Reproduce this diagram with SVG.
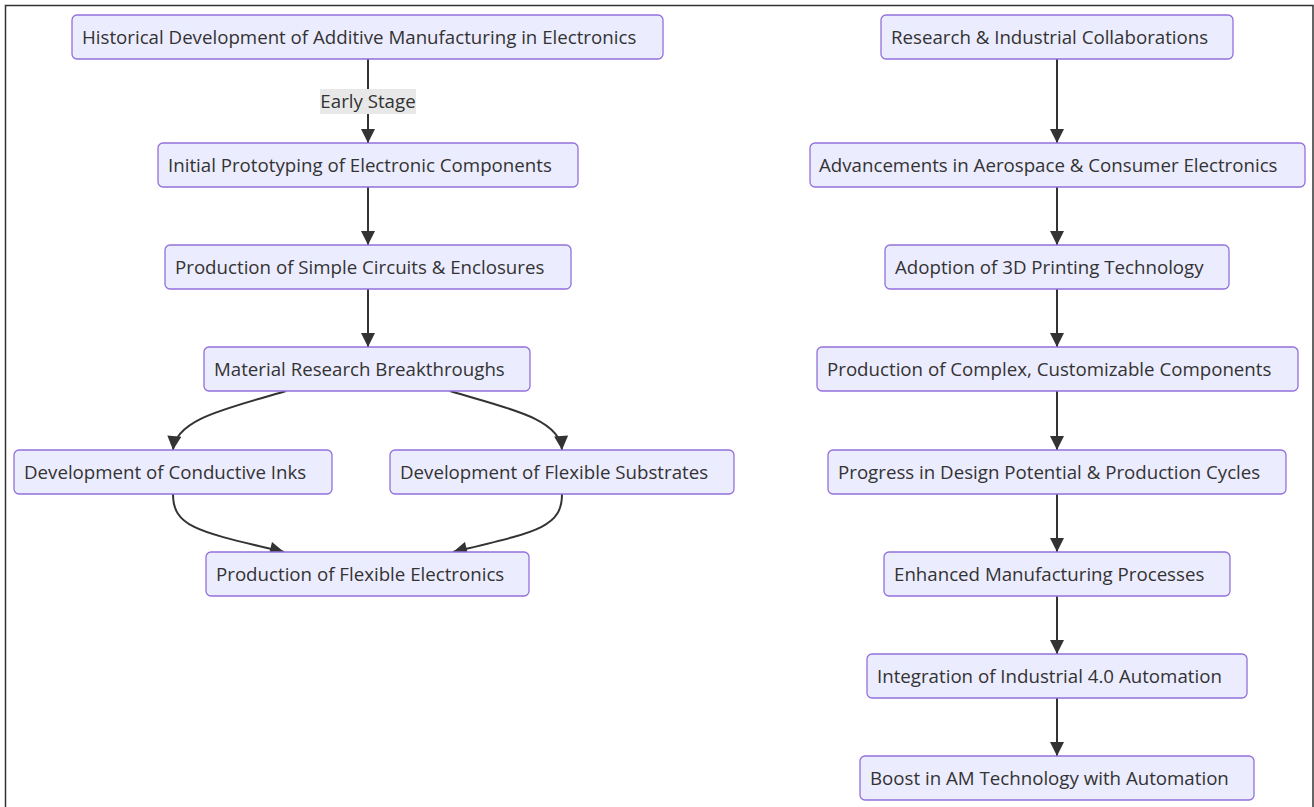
<svg xmlns="http://www.w3.org/2000/svg" width="1314" height="807" viewBox="0 0 1314 807">
<defs>
<style>
.n rect{fill:#ECECFF;stroke:#9370DB;stroke-width:1.3}
.n text{font-family:"Open Sans","Liberation Sans",sans-serif;font-size:18.7px;fill:#333}
.e path{fill:none;stroke:#333;stroke-width:2}
.lbl{font-family:"Open Sans","Liberation Sans",sans-serif;font-size:18.7px;fill:#333}
</style>
<marker id="arr" viewBox="0 0 10 10" refX="10" refY="5" markerWidth="15" markerHeight="14" markerUnits="userSpaceOnUse" orient="auto">
<path d="M0,0 L10,5 L0,10 z" fill="#333"/>
</marker>
</defs>
<rect x="0" y="0" width="1314" height="807" fill="#fff"/>
<path d="M5.5,807 V5.5 H1313 V807" fill="none" stroke="#333" stroke-width="1.5"/>
<g class="e">
<path d="M368,59 V143" marker-end="url(#arr)"/>
<path d="M368,187 V245" marker-end="url(#arr)"/>
<path d="M368,289 V347" marker-end="url(#arr)"/>
<path d="M286,391 C230,408 176,418 173,450" marker-end="url(#arr)"/>
<path d="M450,391 C506,408 560,418 562,450" marker-end="url(#arr)"/>
<path d="M173,494 C173,528 200,532 284,552" marker-end="url(#arr)"/>
<path d="M562,494 C562,528 536,532 453,552" marker-end="url(#arr)"/>
<path d="M1057,59 V143" marker-end="url(#arr)"/>
<path d="M1057,187 V245" marker-end="url(#arr)"/>
<path d="M1057,289 V347" marker-end="url(#arr)"/>
<path d="M1057,391 V450" marker-end="url(#arr)"/>
<path d="M1057,494 V552" marker-end="url(#arr)"/>
<path d="M1057,596 V654" marker-end="url(#arr)"/>
<path d="M1057,698 V756" marker-end="url(#arr)"/>
<rect x="320" y="89" width="96" height="25" fill="#e8e8e8" stroke="none"/>
<text class="lbl" x="368" y="108" text-anchor="middle">Early Stage</text>
</g>
<g class="n" id="n1"><rect x="72" y="15" width="591" height="44" rx="5"/><text x="82" y="44">Historical Development of Additive Manufacturing in Electronics</text></g>
<g class="n" id="n2"><rect x="158" y="143" width="420" height="44" rx="5"/><text x="168" y="172">Initial Prototyping of Electronic Components</text></g>
<g class="n" id="n3"><rect x="165" y="245" width="406" height="44" rx="5"/><text x="175" y="274">Production of Simple Circuits &amp; Enclosures</text></g>
<g class="n" id="n4"><rect x="204" y="347" width="326" height="44" rx="5"/><text x="214" y="376">Material Research Breakthroughs</text></g>
<g class="n" id="n5"><rect x="14" y="450" width="318" height="44" rx="5"/><text x="24" y="479">Development of Conductive Inks</text></g>
<g class="n" id="n6"><rect x="390" y="450" width="344" height="44" rx="5"/><text x="400" y="479">Development of Flexible Substrates</text></g>
<g class="n" id="n7"><rect x="206" y="552" width="323" height="44" rx="5"/><text x="216" y="581">Production of Flexible Electronics</text></g>
<g class="n" id="n8"><rect x="881" y="15" width="352" height="44" rx="5"/><text x="891" y="44">Research &amp; Industrial Collaborations</text></g>
<g class="n" id="n9"><rect x="810" y="143" width="495" height="44" rx="5"/><text x="819" y="172">Advancements in Aerospace &amp; Consumer Electronics</text></g>
<g class="n" id="n10"><rect x="885" y="245" width="344" height="44" rx="5"/><text x="895" y="274">Adoption of 3D Printing Technology</text></g>
<g class="n" id="n11"><rect x="817" y="347" width="481" height="44" rx="5"/><text x="827" y="376">Production of Complex, Customizable Components</text></g>
<g class="n" id="n12"><rect x="828" y="450" width="458" height="44" rx="5"/><text x="838" y="479">Progress in Design Potential &amp; Production Cycles</text></g>
<g class="n" id="n13"><rect x="884" y="552" width="346" height="44" rx="5"/><text x="894" y="581">Enhanced Manufacturing Processes</text></g>
<g class="n" id="n14"><rect x="867" y="654" width="380" height="44" rx="5"/><text x="877" y="683">Integration of Industrial 4.0 Automation</text></g>
<g class="n" id="n15"><rect x="860" y="756" width="394" height="44" rx="5"/><text x="870" y="785">Boost in AM Technology with Automation</text></g>
</svg>
